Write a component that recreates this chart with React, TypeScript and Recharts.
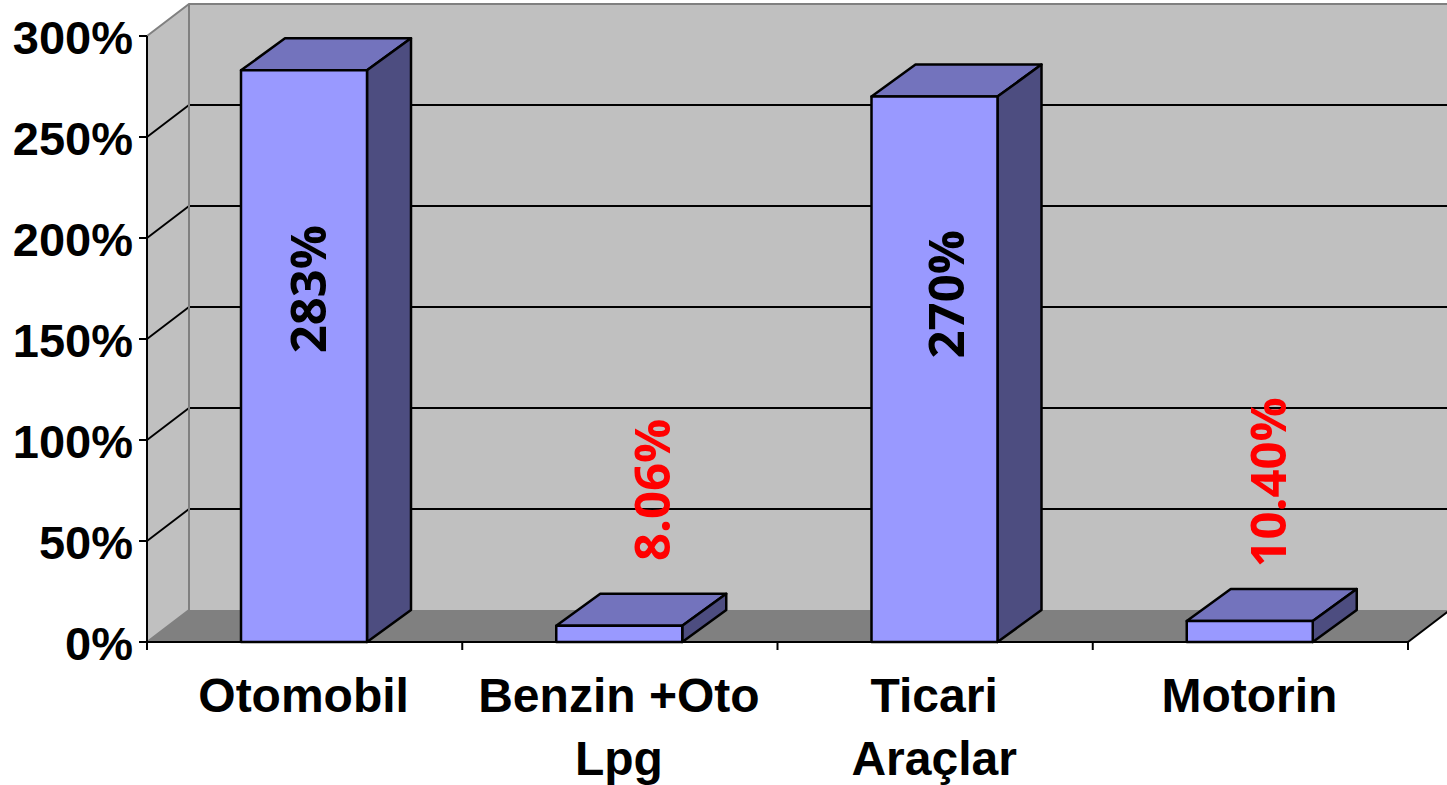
import React from "react";
import { BarChart, Bar, XAxis, YAxis, LabelList, usePlotArea } from "recharts";

const categories = ["Otomobil", "Benzin +Oto\nLpg", "Ticari\nAraçlar", "Motorin"];
const values = [283, 8.06, 270, 10.4];
const valueLabels = ["283%", "8.06%", "270%", "10.40%"];
const yTicks = [0, 50, 100, 150, 200, 250, 300];

const data = categories.map((name, i) => ({ name, value: values[i], label: valueLabels[i] }));

const W = 1447;
const H = 785;
const DX = 42;
const DY = 32;
const Y_MAX = 300;
const BAR_DX = 44;
const BAR_SHIFT = -1;
const labelShift = [
  { dx: 3.5, dy: -67, color: "#000000" },
  { dx: 32, dy: -144, color: "#FF0000" },
  { dx: 11, dy: -75, color: "#000000" },
  { dx: 17.5, dy: -149, color: "#FF0000" },
];
const font = "'Liberation Sans', Arial, sans-serif";

function Backdrop() {
  const area = usePlotArea();
  if (!area) return null;
  const { x, y, width, height } = area;
  const yOf = (v: number) => y + height * (1 - v / Y_MAX);
  const base = y + height;
  const band = width / categories.length;
  const edges = Array.from({ length: categories.length + 1 }, (_, i) => x + band * i);
  return (
    <g>
      <polygon points={`${x},${y} ${x + DX},${y - DY} ${x + DX},${base - DY} ${x},${base}`} fill="#C0C0C0" />
      <rect x={x + DX} y={y - DY} width={width} height={height} fill="#C0C0C0" />
      <polygon
        points={`${x},${base} ${x + DX},${base - DY} ${x + width + DX},${base - DY} ${x + width},${base}`}
        fill="#808080"
      />
      {yTicks.slice(1, -1).map((v) => (
        <g key={v}>
          <line x1={x} y1={yOf(v)} x2={x + DX} y2={yOf(v) - DY} stroke="#000" strokeWidth={2} />
          <line x1={x + DX} y1={yOf(v) - DY} x2={x + width + DX} y2={yOf(v) - DY} stroke="#000" strokeWidth={2} />
        </g>
      ))}
      <path
        d={`M${x},${y} L${x + DX},${y - DY} L${x + width + DX},${y - DY} M${x + DX},${y - DY} L${x + DX},${base - DY} L${x},${base}`}
        stroke="#808080"
        strokeWidth={2}
        fill="none"
      />
      <line x1={x + width} y1={base} x2={x + width + DX} y2={base - DY} stroke="#000" strokeWidth={2} />
      {edges.map((ex) => (
        <line key={ex} x1={ex} y1={base} x2={ex} y2={base + 8} stroke="#000" strokeWidth={2} />
      ))}
    </g>
  );
}

function Bar3D(props: any) {
  const { y, width, height } = props;
  const x = props.x + BAR_SHIFT;
  return (
    <g stroke="#000" strokeWidth={2.5} strokeLinejoin="round">
      <polygon
        points={`${x},${y} ${x + BAR_DX},${y - DY} ${x + width + BAR_DX},${y - DY} ${x + width},${y}`}
        fill="#7373BD"
      />
      <polygon
        points={`${x + width},${y} ${x + width + BAR_DX},${y - DY} ${x + width + BAR_DX},${y + height - DY} ${x + width},${y + height}`}
        fill="#4D4D80"
      />
      <rect x={x} y={y} width={width} height={height} fill="#9999FF" />
    </g>
  );
}

function XTick(props: any) {
  const { x, y, payload } = props;
  const lines = String(payload.value).split("\n");
  return (
    <text textAnchor="middle" fontFamily={font} fontWeight={700} fontSize={48} fill="#000">
      {lines.map((l, i) => (
        <tspan key={i} x={x - 1} y={y + 62 + i * 63}>
          {l}
        </tspan>
      ))}
    </text>
  );
}

function YTick(props: any) {
  const { x, y, payload } = props;
  return (
    <text x={x} y={y + 18} textAnchor="end" fontFamily={font} fontWeight={700} fontSize={47} fill="#000">
      {payload.value}%
    </text>
  );
}

function ValueLabel(props: any) {
  const { x, y, width, height, index, value } = props;
  const s = labelShift[index];
  const cx = x + width / 2 + s.dx;
  const cy = y + height / 2 + s.dy;
  return (
    <text
      transform={`translate(${cx},${cy}) rotate(-90)`}
      textAnchor="middle"
      dy="0.357em"
      fontFamily="'Open Sans', sans-serif"
      fontWeight={700}
      fontSize={49}
      fill={s.color}
    >
      {value}
    </text>
  );
}

export default function App() {
  return (
    <div style={{ position: "fixed", left: 0, top: 0, width: W, height: H, background: "#fff", overflow: "hidden" }}>
      <BarChart
        width={W}
        height={H}
        data={data}
        margin={{ top: 36, right: 39, bottom: 0, left: 0 }}
        barSize={126}
      >
        <Backdrop />
        <XAxis
          dataKey="name"
          height={143}
          interval={0}
          tick={<XTick />}
          tickLine={false}
          axisLine={{ stroke: "#000", strokeWidth: 2 }}
        />
        <YAxis
          width={147}
          domain={[0, Y_MAX]}
          ticks={yTicks}
          tick={<YTick />}
          tickSize={8}
          tickMargin={6}
          tickLine={{ stroke: "#000", strokeWidth: 2 }}
          axisLine={{ stroke: "#000", strokeWidth: 2 }}
        />
        <Bar dataKey="value" shape={<Bar3D />} isAnimationActive={false}>
          <LabelList dataKey="label" content={<ValueLabel />} />
        </Bar>
      </BarChart>
    </div>
  );
}
